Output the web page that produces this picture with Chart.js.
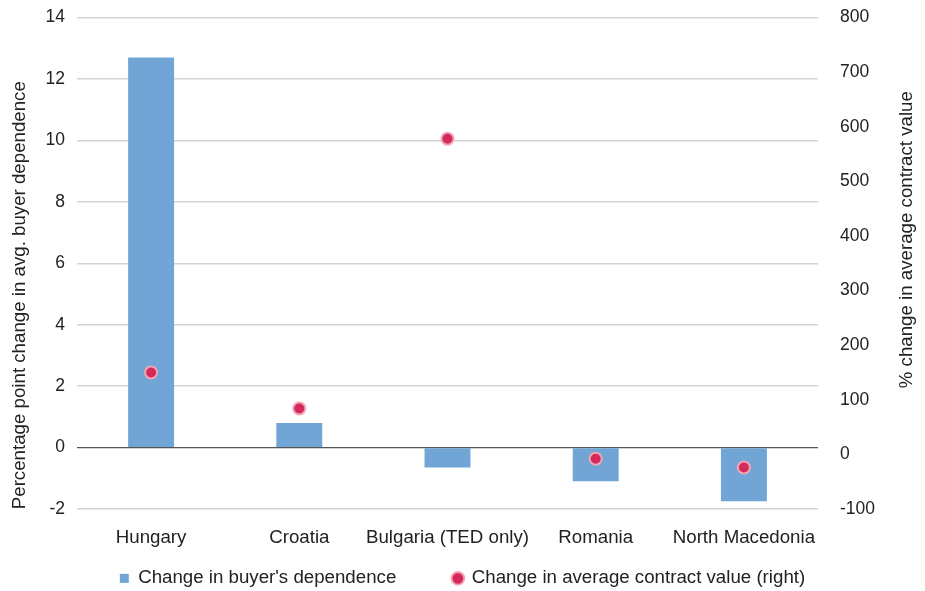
<!DOCTYPE html>
<html>
<head>
<meta charset="utf-8">
<script src="https://cdn.jsdelivr.net/npm/chart.js@4/dist/chart.umd.min.js"></script>
<style>
  html, body { margin: 0; padding: 0; background: #fff; }
</style>
</head>
<body>
<canvas id="myChart" width="925" height="591"></canvas>
<script>
'use strict'

var countries = ["Hungary", "Croatia", "Bulgaria (TED only)", "Romania", "North Macedonia"];
var buyerDependence = [12.7, 0.8, -0.65, -1.1, -1.75];
var contractValue = [150, 84, 578, -8, -24];
var leftTitle = 'Percentage point change in avg. buyer dependence';
var rightTitle = '% change in average contract value';

var FONT = "'Liberation Sans', Arial, sans-serif";
Chart.defaults.font.family = FONT;
Chart.defaults.color = '#222';

// axis titles both read bottom-to-top, placed as in the original
var axisTitles = {
    id: 'axisTitles',
    afterDraw: function (chart) {
        var c = chart.ctx;
        var a = chart.chartArea;
        var h = a.bottom - a.top;
        function vtext(txt, x, y) {
            c.save();
            c.translate(x, y);
            c.rotate(-Math.PI / 2);
            c.font = '18.7px ' + FONT;
            c.fillStyle = '#222';
            c.textAlign = 'center';
            c.textBaseline = 'middle';
            c.fillText(txt, 0, 0);
            c.restore();
        }
        vtext(leftTitle, chart.scales.y.left + 20, a.top + h * 0.565);
        vtext(rightTitle, chart.scales.y1.right - 18, a.top + h * 0.452);
    }
};

var ctx = document.getElementById("myChart").getContext('2d');
var myChart = new Chart(ctx, {
    type: 'bar',
    data: {
        labels: countries,
        datasets: [{
            label: "Change in buyer's dependence",
            data: buyerDependence,
            yAxisID: 'y',
            backgroundColor: '#70a5d6',
            borderWidth: 0,
            barPercentage: 0.31,
            categoryPercentage: 1,
            pointStyle: 'rect',
            order: 1
        }, {
            type: 'scatter',
            label: 'Change in average contract value (right)',
            data: contractValue,
            yAxisID: 'y1',
            backgroundColor: '#d42a5b',
            borderColor: '#f2a3b5',
            borderWidth: 2,
            pointRadius: 6,
            pointHoverRadius: 6,
            pointStyle: 'circle',
            order: 0
        }]
    },
    options: {
        responsive: false,
        animation: false,
        layout: { padding: 0 },
        plugins: {
            legend: {
                position: 'bottom',
                maxHeight: 22,
                labels: {
                    usePointStyle: true,
                    boxWidth: 9,
                    boxHeight: 9,
                    padding: 0,
                    font: { size: 18.7 },
                    color: '#222',
                    sort: function (a, b) { return a.datasetIndex - b.datasetIndex; },
                    generateLabels: function (chart) {
                        var items = Chart.defaults.plugins.legend.labels.generateLabels(chart);
                        // wider gap between the two entries
                        items.forEach(function (it) {
                            if (it.datasetIndex === 0) it.text = it.text + '           ';
                        });
                        return items;
                    }
                }
            },
            tooltip: { enabled: false }
        },
        scales: {
            x: {
                type: 'category',
                afterFit: function (s) { s.height = 60; },
                grid: { display: false, drawTicks: false },
                border: { display: false },
                ticks: { font: { size: 18.7 }, color: '#222', padding: 18, maxRotation: 0, autoSkip: false }
            },
            y: {
                position: 'left',
                min: -2,
                max: 14,
                afterFit: function (s) { s.width = 77; },
                ticks: { stepSize: 2, font: { size: 17.5 }, color: '#222', padding: 4 },
                grid: {
                    drawTicks: true,
                    tickLength: 8,
                    tickColor: 'rgba(0,0,0,0)',
                    color: function (c) { return c.tick && c.tick.value === 0 ? '#555' : '#d3d3d9'; },
                    lineWidth: function (c) { return c.tick && c.tick.value === 0 ? 1.2 : 1.5; }
                },
                border: { display: false }
            },
            y1: {
                position: 'right',
                min: -100,
                max: 800,
                afterFit: function (s) { s.width = 107; },
                ticks: { stepSize: 100, font: { size: 17.5 }, color: '#222', padding: 7 },
                grid: { display: false, drawTicks: true, tickLength: 15 },
                border: { display: false }
            }
        }
    },
    plugins: [axisTitles]
});
</script>
</body>
</html>
